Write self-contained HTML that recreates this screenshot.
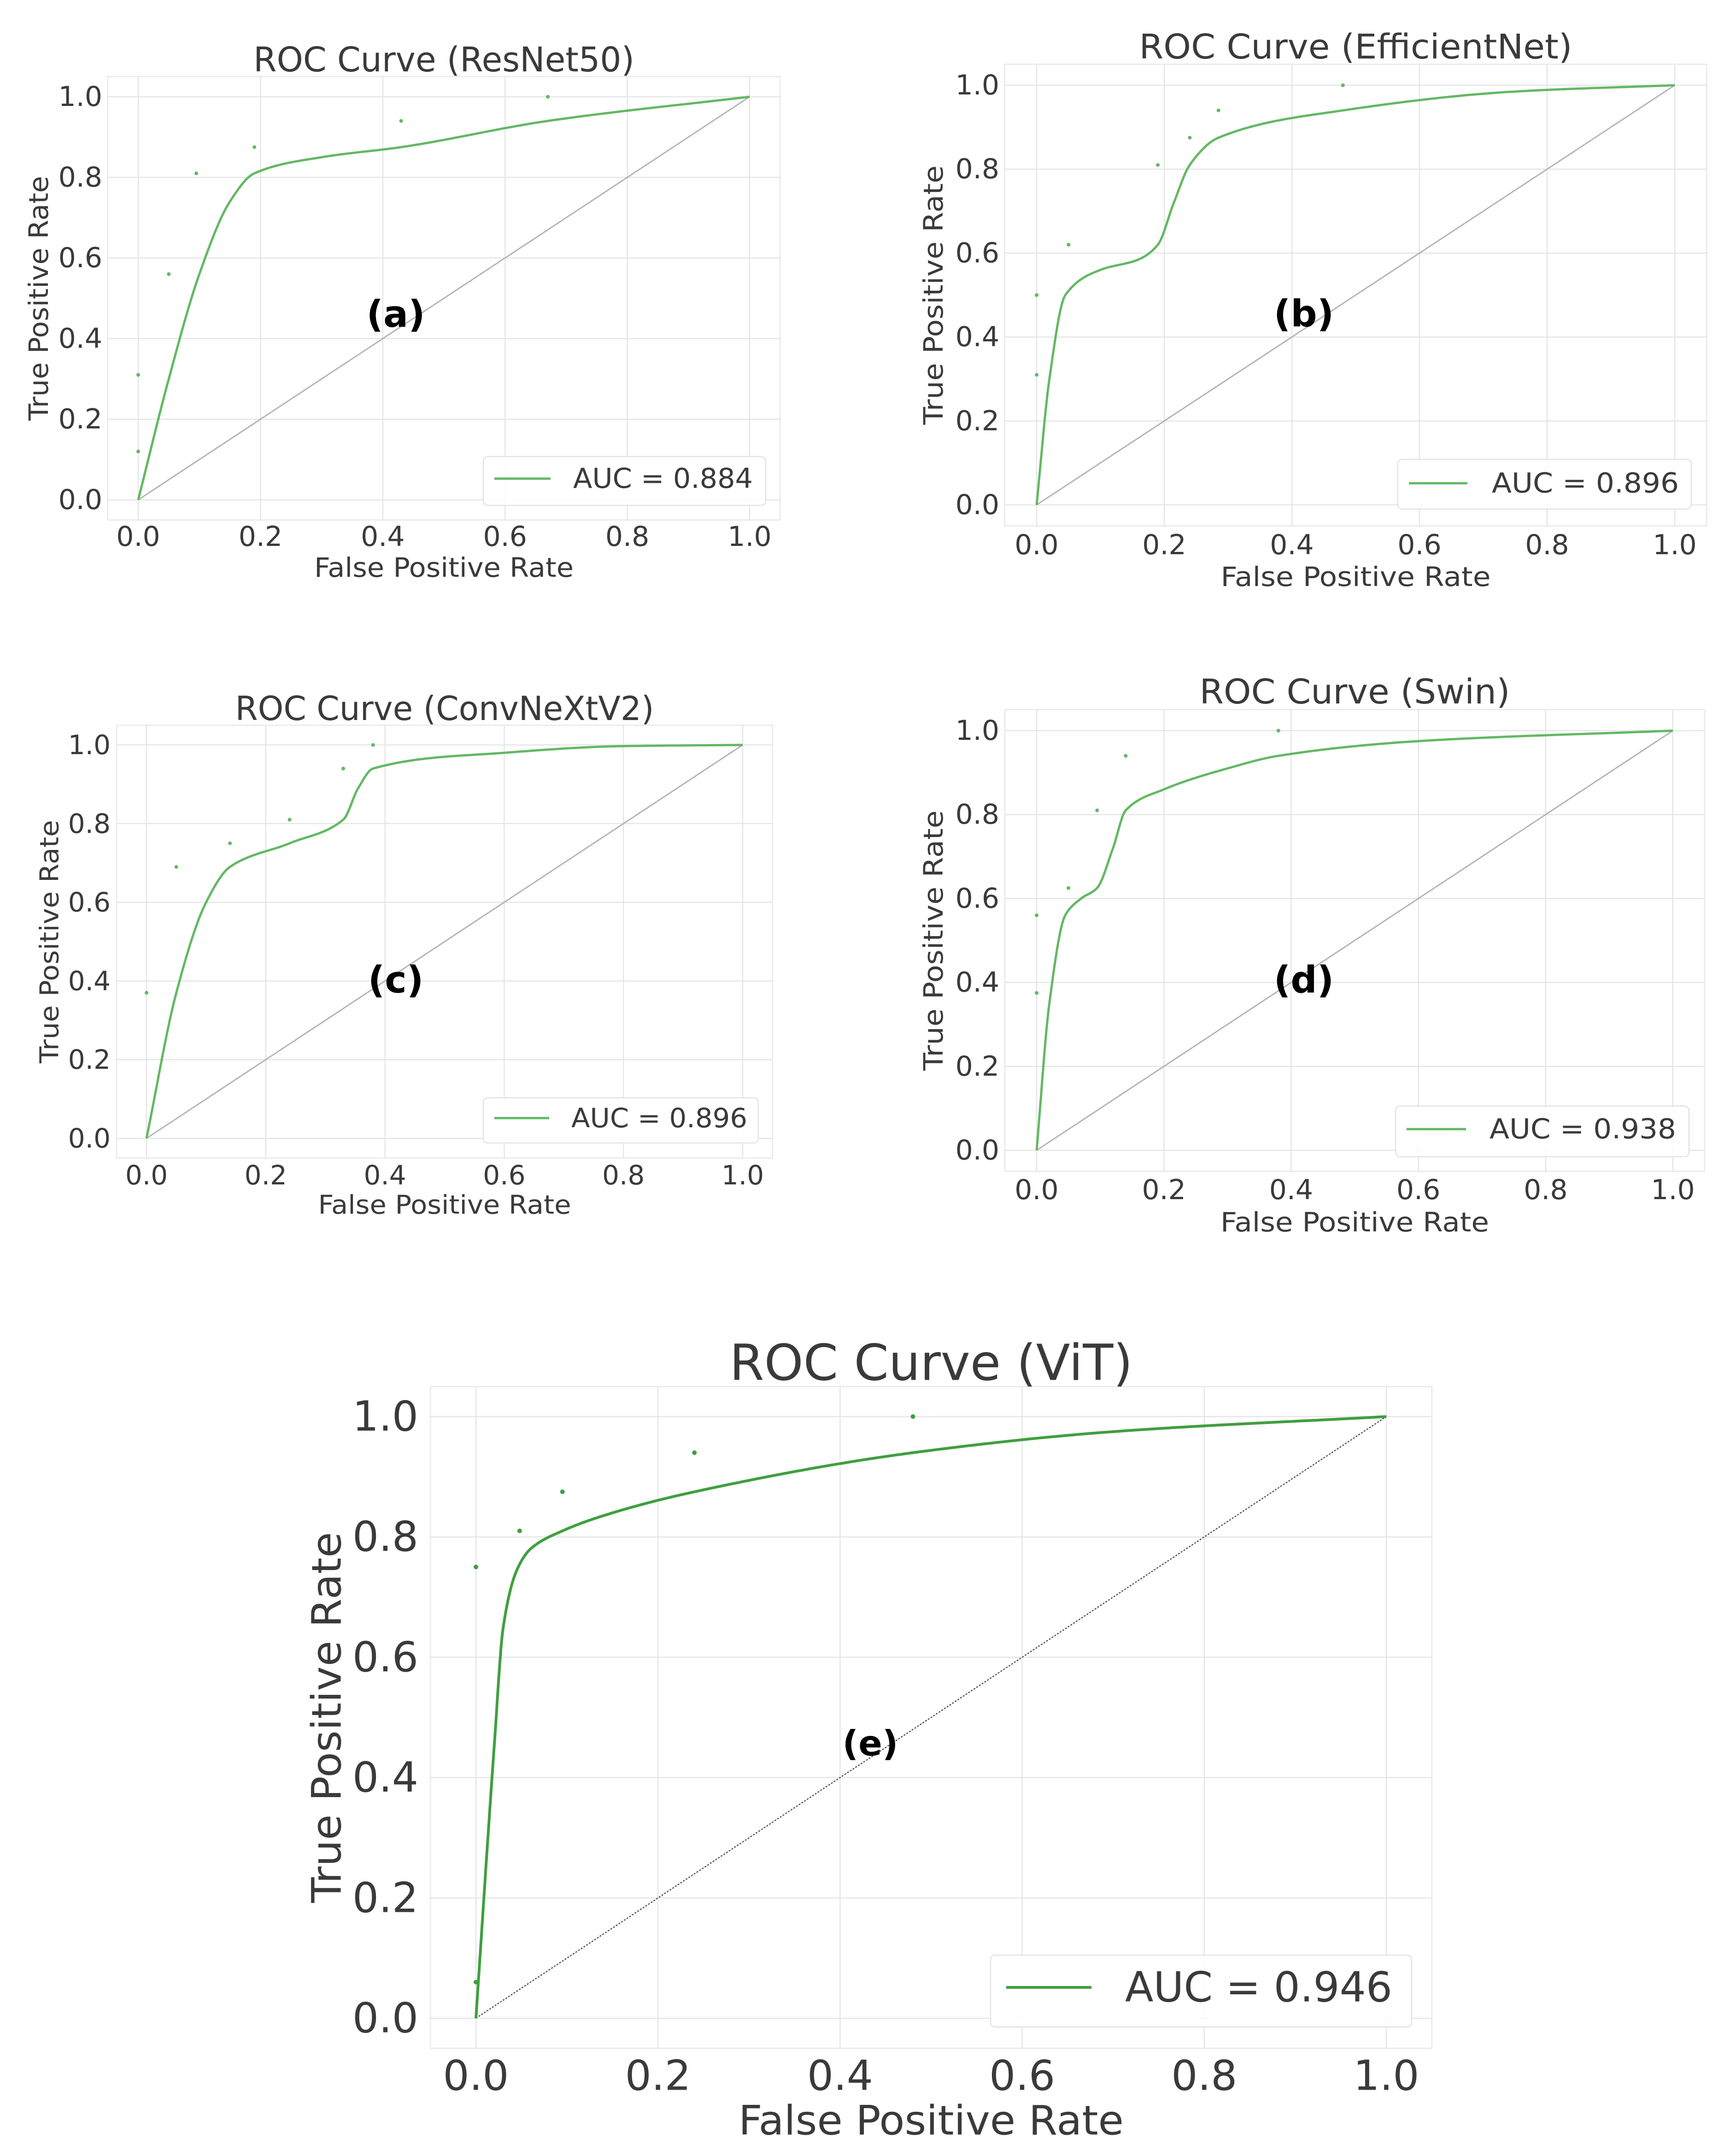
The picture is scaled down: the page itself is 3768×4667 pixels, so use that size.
<!DOCTYPE html>
<html><head><meta charset="utf-8"><style>
html,body{margin:0;padding:0;background:#fff;}
svg{display:block;}
text{font-family:"DejaVu Sans","Liberation Sans",sans-serif;fill:#3a3a3a;}
</style></head><body>
<svg id="fig" width="3768" height="4667" viewBox="0 0 3768 4667" xmlns="http://www.w3.org/2000/svg">
<rect x="0" y="0" width="3768" height="4667" fill="#fff"/>
</svg>
<script>
// ---- data ----
const tickValues = [0, 0.2, 0.4, 0.6, 0.8, 1.0];
const tickLabels = ["0.0", "0.2", "0.4", "0.6", "0.8", "1.0"];
const panelTitles = ["ROC Curve (ResNet50)", "ROC Curve (EfficientNet)", "ROC Curve (ConvNeXtV2)", "ROC Curve (Swin)", "ROC Curve (ViT)"];
const panelTags = ["(a)", "(b)", "(c)", "(d)", "(e)"];
const aucLabels = ["AUC = 0.884", "AUC = 0.896", "AUC = 0.896", "AUC = 0.938", "AUC = 0.946"];

const resnetFpr = [0, 0.05, 0.1, 0.15, 0.19, 0.3, 0.43, 0.67, 1];
const resnetTpr = [0, 0.3, 0.56, 0.74, 0.81, 0.85, 0.875, 0.94, 1];
const resnetDotFpr = [0, 0, 0.05, 0.095, 0.19, 0.43, 0.67];
const resnetDotTpr = [0.12, 0.31, 0.56, 0.81, 0.875, 0.94, 1.0];

const effFpr = [0, 0.02, 0.045, 0.1, 0.16, 0.19, 0.215, 0.24, 0.285, 0.48, 0.75, 1];
const effTpr = [0, 0.3, 0.5, 0.56, 0.585, 0.62, 0.72, 0.81, 0.875, 0.94, 0.985, 1];
const effDotFpr = [0, 0, 0.05, 0.19, 0.24, 0.285, 0.48];
const effDotTpr = [0.31, 0.5, 0.62, 0.81, 0.875, 0.94, 1.0];

const convFpr = [0, 0.05, 0.1, 0.14, 0.24, 0.33, 0.355, 0.38, 0.6, 0.8, 1];
const convTpr = [0, 0.37, 0.6, 0.69, 0.75, 0.81, 0.89, 0.94, 0.98, 0.997, 1];
const convDotFpr = [0, 0.05, 0.14, 0.24, 0.33, 0.38];
const convDotTpr = [0.37, 0.69, 0.75, 0.81, 0.94, 1.0];

const swinFpr = [0, 0.02, 0.045, 0.07, 0.095, 0.12, 0.14, 0.2, 0.3, 0.38, 0.6, 1];
const swinTpr = [0, 0.35, 0.56, 0.6, 0.625, 0.72, 0.81, 0.86, 0.91, 0.94, 0.975, 1];
const swinDotFpr = [0, 0, 0.05, 0.095, 0.14, 0.38];
const swinDotTpr = [0.375, 0.56, 0.625, 0.81, 0.94, 1.0];

const vitFpr = [0, 0.02, 0.03, 0.045, 0.06, 0.095, 0.15, 0.24, 0.48, 0.7, 1];
const vitTpr = [0, 0.45, 0.65, 0.745, 0.78, 0.81, 0.84, 0.875, 0.94, 0.975, 1];
const vitDotFpr = [0, 0, 0.048, 0.095, 0.24, 0.48];
const vitDotTpr = [0.06, 0.75, 0.81, 0.875, 0.94, 1.0];

// ---- layout (pixels) ----
const layouts = [
 {x0:300,x1:1627,y0:1085,y1:210, ytE:222, xtY:1165, tY:130, tLen:827, xtlY:1232, xtlLen:563, ytlX:84, ytlLen:531, fs:60, tfs:74, afs:58, lg:[1049,991,613,106,1073,1195,1039,1244,390], tag:[859,682,80], col:"#63b863", lw:5, dcol:"#b5b5b5"},
 {x0:2250,x1:3635,y0:1096,y1:185, ytE:2169, xtY:1183, tY:102, tLen:940, xtlY:1252, xtlLen:586, ytlX:2026, ytlLen:563, fs:60, tfs:74, afs:58, lg:[3034,997,637,108,3058,3185,1049,3238,406], tag:[2830,681,80], col:"#63b863", lw:5, dcol:"#b5b5b5"},
 {x0:318,x1:1612,y0:2471,y1:1617, ytE:240, xtY:2551, tY:1538, tLen:909, xtlY:2616, xtlLen:549, ytlX:108, ytlLen:528, fs:58, tfs:72, afs:56, lg:[1049,2383,597,98,1073,1192,2427,1240,382], tag:[859,2127,80], col:"#63b863", lw:5, dcol:"#b5b5b5"},
 {x0:2250,x1:3631,y0:2497,y1:1586, ytE:2169, xtY:2583, tY:1502, tLen:674, xtlY:2653, xtlLen:583, ytlX:2026, ytlLen:565, fs:60, tfs:74, afs:58, lg:[3029,2401,637,110,3053,3182,2451,3233,405], tag:[2830,2127,80], col:"#63b863", lw:5, dcol:"#b5b5b5"},
 {x0:1033,x1:3009,y0:4381,y1:3075, ytE:908, xtY:4506, tY:2959, tLen:875, xtlY:4603, xtlLen:836, ytlX:709, ytlLen:805, fs:90, tfs:108, afs:88, lg:[2150,4244,914,156,2184,2369,4314,2442,580], tag:[1889,3784,76], col:"#3f9f3f", lw:6, dcol:"#555", dash:"4 3"}
];
const curveX = [resnetFpr, effFpr, convFpr, swinFpr, vitFpr];
const curveY = [resnetTpr, effTpr, convTpr, swinTpr, vitTpr];
const dotX = [resnetDotFpr, effDotFpr, convDotFpr, swinDotFpr, vitDotFpr];
const dotY = [resnetDotTpr, effDotTpr, convDotTpr, swinDotTpr, vitDotTpr];
const panelNames = ["resnet50", "efficientnet", "convnextv2", "swin", "vit"];

const NS = "http://www.w3.org/2000/svg";
const fig = document.getElementById("fig");
function mk(tag, attrs, parent) {
  const e = document.createElementNS(NS, tag);
  for (const k in attrs) e.setAttribute(k, attrs[k]);
  parent.appendChild(e);
  return e;
}
// monotone cubic (Fritsch-Carlson) in x
function monotoneSamples(xs, ys) {
  const n = xs.length, d = [], m = new Array(n);
  for (let i = 0; i < n - 1; i++) d.push((ys[i + 1] - ys[i]) / (xs[i + 1] - xs[i]));
  m[0] = d[0]; m[n - 1] = d[n - 2];
  for (let i = 1; i < n - 1; i++) {
    if (d[i - 1] * d[i] <= 0) m[i] = 0;
    else {
      const h0 = xs[i] - xs[i - 1], h1 = xs[i + 1] - xs[i];
      const w1 = 2 * h1 + h0, w2 = h1 + 2 * h0;
      m[i] = (w1 + w2) / (w1 / d[i - 1] + w2 / d[i]);
    }
  }
  const out = [];
  for (let i = 0; i < n - 1; i++) {
    const h = xs[i + 1] - xs[i];
    const steps = 40;
    for (let s = (i === 0 ? 0 : 1); s <= steps; s++) {
      const t = s / steps, t2 = t * t, t3 = t2 * t;
      const y = (2 * t3 - 3 * t2 + 1) * ys[i] + (t3 - 2 * t2 + t) * h * m[i] + (-2 * t3 + 3 * t2) * ys[i + 1] + (t3 - t2) * h * m[i + 1];
      out.push([xs[i] + h * t, y]);
    }
  }
  return out;
}

layouts.forEach((L, p) => {
  const sx = v => L.x0 + (L.x1 - L.x0) * v;
  const sy = v => L.y0 - (L.y0 - L.y1) * v;
  const g = mk("g", {}, fig);
  
  
  const fl = sx(-0.05), fr = sx(1.05), ft = sy(1.05), fb = sy(-0.05);
  const frame = mk("rect", {x: fl, y: ft, width: fr - fl, height: fb - ft, fill: "#fff", stroke: "#ececec", "stroke-width": 3}, g);
  
  
  tickValues.forEach((v, i) => {
    const gx = mk("line", {x1: sx(v), x2: sx(v), y1: ft, y2: fb, stroke: "#e6e6e6", "stroke-width": 2.5}, g);
    
    
    const gy = mk("line", {x1: fl, x2: fr, y1: sy(v), y2: sy(v), stroke: "#e6e6e6", "stroke-width": 2.5}, g);
    
    
    const xt = mk("text", {x: sx(v), y: L.xtY, "text-anchor": "middle", "dominant-baseline": "central", "font-size": L.fs}, g);
    xt.textContent = tickLabels[i];
    
    
    const yt = mk("text", {x: L.ytE, y: sy(v), "text-anchor": "end", "dominant-baseline": "central", "font-size": L.fs}, g);
    yt.textContent = tickLabels[i];
    
    
  });
  const diag = mk("line", {x1: sx(0), y1: sy(0), x2: sx(1), y2: sy(1), stroke: L.dcol, "stroke-width": L.dash ? 2.5 : 3}, g);
  if (L.dash) diag.setAttribute("stroke-dasharray", L.dash);
  
  
  const samp = monotoneSamples(curveX[p], curveY[p]);
  const d = samp.map((q, i) => (i ? "L" : "M") + sx(q[0]).toFixed(1) + "," + sy(q[1]).toFixed(1)).join(" ");
  const curve = mk("path", {d: d, fill: "none", stroke: L.col, "stroke-width": L.lw, "stroke-linejoin": "round"}, g);
  
  
  dotX[p].forEach((v, i) => {
    const c = mk("circle", {cx: sx(v), cy: sy(dotY[p][i]), r: p === 4 ? 5 : 4, fill: L.col}, g);
    
    
  });
  const tag = mk("text", {x: L.tag[0], y: L.tag[1], "text-anchor": "middle", "dominant-baseline": "central", "font-size": L.tag[2], "font-weight": "bold", style: "fill:#000"}, g);
  tag.textContent = panelTags[p];
  
  
  const t = mk("text", {x: (fl + fr) / 2, y: L.tY, "text-anchor": "middle", "dominant-baseline": "central", "font-size": L.tfs, textLength: L.tLen, lengthAdjust: "spacingAndGlyphs"}, g);
  t.textContent = panelTitles[p];
  
  
  const xl = mk("text", {x: (fl + fr) / 2, y: L.xtlY, "text-anchor": "middle", "dominant-baseline": "central", "font-size": L.afs, textLength: L.xtlLen, lengthAdjust: "spacingAndGlyphs"}, g);
  xl.textContent = "False Positive Rate";
  
  
  const yc = (ft + fb) / 2;
  const yl = mk("text", {x: L.ytlX, y: yc, "text-anchor": "middle", "dominant-baseline": "central", "font-size": L.afs, textLength: L.ytlLen, lengthAdjust: "spacingAndGlyphs", transform: "rotate(-90 " + L.ytlX + " " + yc + ")"}, g);
  yl.textContent = "True Positive Rate";
  
  
  const lg = L.lg;
  const lgG = mk("g", {}, g);
  
  
  mk("rect", {x: lg[0], y: lg[1], width: lg[2], height: lg[3], rx: 10, fill: "#fff", "fill-opacity": 0.85, stroke: "#e3e3e3", "stroke-width": 2.5}, lgG);
  const ll = mk("line", {x1: lg[4], x2: lg[5], y1: lg[6], y2: lg[6], stroke: L.col, "stroke-width": L.lw}, lgG);
  
  
  const lt = mk("text", {x: lg[7], y: lg[6], "dominant-baseline": "central", "font-size": L.fs, textLength: lg[8], lengthAdjust: "spacingAndGlyphs"}, lgG);
  lt.textContent = aucLabels[p];
  
  
});
</script>
</body></html>
